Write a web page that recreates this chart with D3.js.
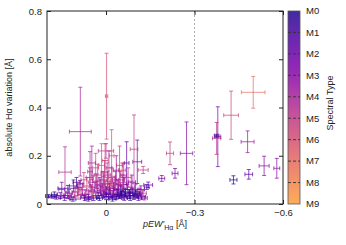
<!DOCTYPE html>
<html>
<head>
<meta charset="utf-8">
<script src="https://cdnjs.cloudflare.com/ajax/libs/d3/7.8.5/d3.min.js"></script>
<style>
  body { margin: 0; background: #fff; }
  text { font-family: "Liberation Sans", Arial, sans-serif; fill: #222; }
</style>
</head>
<body>
<div id="chart"></div>
<script>
// pEW' H-alpha (x), absolute variation (y), their errors and spectral subtype (0 = M0 ... 9 = M9)
var pew = [
  -0.499, -0.424, -0.379, -0.375, -0.375, -0.480, -0.432, -0.484, -0.536, -0.579,
  -0.273, -0.217, -0.234, -0.189, -0.143, -0.138, -0.126, -0.106, -0.095, -0.019,
  0.000, 0.087, -0.002, 0.139, 0.129,
  0.195, 0.182, 0.168, 0.175, 0.155, 0.150, 0.140, 0.125, 0.118, 0.110,
  0.105, 0.100, 0.088, 0.095, 0.080, 0.075, 0.054, 0.070, 0.065, 0.060,
  0.055, 0.050, 0.045, 0.042, 0.038, 0.035, 0.030, 0.028, 0.025, 0.020,
  0.015, 0.012, 0.010, 0.008, 0.005, 0.002, -0.002, -0.005, -0.008, -0.010,
  -0.012, -0.015, -0.020, -0.025, -0.028, -0.030, -0.035, -0.038, -0.040, -0.045,
  -0.048, -0.050, -0.055, -0.058, -0.060, -0.065, -0.070, -0.072, -0.075, -0.080,
  -0.085, -0.090, -0.095, -0.100, -0.105, -0.110, -0.115, -0.120, -0.125, -0.130,
  0.060, 0.045, 0.032, 0.022, 0.018, 0.008, 0.000, -0.004, -0.010, -0.016,
  -0.022, -0.026, -0.032, -0.036, -0.042, -0.046, -0.052, -0.056, -0.062, -0.066,
  -0.078, -0.082, -0.088, -0.098, -0.108, -0.118, 0.085, 0.072, 0.092, 0.130,
  0.112, 0.048, 0.003, -0.060
];
var pewErr = [
  0.040, 0.025, 0.010, 0.014, 0.008, 0.022, 0.012, 0.013, 0.017, 0.010,
  0.021, 0.012, 0.010, 0.010, 0.015, 0.008, 0.017, 0.015, 0.013, 0.008,
  0.026, 0.037, 0.004, 0.021, 0.034,
  0.010, 0.012, 0.008, 0.010, 0.012, 0.010, 0.015, 0.012, 0.010, 0.014,
  0.010, 0.012, 0.010, 0.012, 0.015, 0.010, 0.008, 0.010, 0.012, 0.015,
  0.012, 0.010, 0.015, 0.012, 0.010, 0.010, 0.014, 0.012, 0.010, 0.015,
  0.010, 0.012, 0.014, 0.010, 0.012, 0.015, 0.010, 0.012, 0.014, 0.010,
  0.012, 0.016, 0.012, 0.010, 0.015, 0.012, 0.010, 0.014, 0.012, 0.010,
  0.015, 0.010, 0.012, 0.012, 0.010, 0.015, 0.008, 0.012, 0.010, 0.014,
  0.012, 0.010, 0.015, 0.012, 0.010, 0.012, 0.010, 0.014, 0.012, 0.010,
  0.012, 0.010, 0.014, 0.010, 0.012, 0.015, 0.010, 0.012, 0.014, 0.010,
  0.012, 0.015, 0.010, 0.012, 0.014, 0.010, 0.012, 0.015, 0.010, 0.012,
  0.014, 0.010, 0.012, 0.015, 0.010, 0.012, 0.012, 0.014, 0.010, 0.012,
  0.010, 0.012, 0.010, 0.010
];
var variation = [
  0.463, 0.368, 0.279, 0.272, 0.283, 0.258, 0.100, 0.123, 0.158, 0.148,
  0.210, 0.210, 0.127, 0.106, 0.079, 0.070, 0.141, 0.175, 0.227, 0.200,
  0.220, 0.300, 0.447, 0.132, 0.065,
  0.033, 0.030, 0.028, 0.040, 0.035, 0.060, 0.025, 0.045, 0.030, 0.075,
  0.050, 0.090, 0.083, 0.035, 0.060, 0.100, 0.134, 0.040, 0.075, 0.030,
  0.110, 0.055, 0.090, 0.025, 0.070, 0.150, 0.045, 0.120, 0.035, 0.080,
  0.160, 0.060, 0.100, 0.040, 0.130, 0.070, 0.050, 0.095, 0.030, 0.150,
  0.065, 0.040, 0.110, 0.055, 0.085, 0.030, 0.140, 0.045, 0.075, 0.035,
  0.100, 0.055, 0.140, 0.030, 0.080, 0.045, 0.170, 0.060, 0.110, 0.035,
  0.070, 0.050, 0.030, 0.060, 0.040, 0.025, 0.050, 0.030, 0.045, 0.025,
  0.020, 0.050, 0.095, 0.025, 0.055, 0.085, 0.030, 0.120, 0.045, 0.080,
  0.020, 0.065, 0.100, 0.030, 0.060, 0.160, 0.040, 0.090, 0.025, 0.050,
  0.045, 0.025, 0.090, 0.045, 0.035, 0.060, 0.040, 0.025, 0.065, 0.035,
  0.020, 0.170, 0.180, 0.120
];
var variationErr = [
  0.066, 0.100, 0.124, 0.066, 0.006, 0.045, 0.017, 0.020, 0.040, 0.041,
  0.130, 0.047, 0.020, 0.012, 0.012, 0.010, 0.015, 0.090, 0.142, 0.108,
  0.030, 0.184, 0.178, 0.105, 0.012,
  0.006, 0.006, 0.008, 0.010, 0.012, 0.030, 0.010, 0.015, 0.012, 0.025,
  0.020, 0.020, 0.015, 0.015, 0.025, 0.030, 0.083, 0.015, 0.035, 0.010,
  0.040, 0.025, 0.030, 0.010, 0.020, 0.060, 0.020, 0.045, 0.012, 0.030,
  0.090, 0.025, 0.035, 0.015, 0.050, 0.025, 0.020, 0.040, 0.010, 0.070,
  0.020, 0.015, 0.040, 0.020, 0.030, 0.010, 0.060, 0.015, 0.025, 0.012,
  0.035, 0.020, 0.030, 0.010, 0.030, 0.015, 0.088, 0.020, 0.040, 0.012,
  0.025, 0.015, 0.010, 0.020, 0.012, 0.010, 0.015, 0.010, 0.012, 0.008,
  0.008, 0.020, 0.030, 0.010, 0.020, 0.030, 0.012, 0.050, 0.015, 0.030,
  0.008, 0.025, 0.035, 0.010, 0.020, 0.080, 0.012, 0.030, 0.010, 0.015,
  0.015, 0.010, 0.030, 0.012, 0.010, 0.015, 0.015, 0.010, 0.025, 0.012,
  0.008, 0.070, 0.070, 0.050
];
var spType = [
  7, 5.5, 2.5, 4.5, 0.5, 3.5, 0, 1.5, 3, 3,
  3, 5, 2.5, 2.5, 2, 1, 5, 2, 5, 6,
  4.5, 4, 6, 4.5, 0.5,
  0.5, 1, 1.5, 0, 2, 3, 1, 3.5, 4, 2,
  4.5, 1, 1.5, 5, 4, 5, 4, 3, 5.5, 2,
  4.5, 3.5, 5, 1, 2.5, 5.5, 4, 4.5, 0.5, 3,
  6, 5, 3.5, 2, 5, 4, 1.5, 5.5, 0.5, 4,
  3, 1, 5, 2, 4.5, 0, 3.5, 2.5, 5, 1,
  4, 0.5, 5.5, 1.5, 3, 0, 1.5, 2, 5, 1,
  4, 0.5, 2.5, 3.5, 0, 1.5, 4.5, 2, 5, 3,
  1, 5.5, 4.5, 0, 3, 5, 1, 4.5, 2, 5.5,
  0.5, 3.5, 4, 1, 2.5, 5, 0, 4.5, 1.5, 0.5,
  1, 0, 3, 0.5, 1, 2, 4.5, 1.5, 5, 2.5,
  0.5, 4, 5.5, 4
];
var xTicks = [0, -0.3, -0.6];
var yTicks = [0, 0.2, 0.4, 0.6, 0.8];
var spLabels = ["M0", "M1", "M2", "M3", "M4", "M5", "M6", "M7", "M8", "M9"];

var width = 346, height = 245;
var plot = {left: 47, right: 283, top: 11, bottom: 204};

var svg = d3.select("#chart").append("svg")
    .attr("width", width)
    .attr("height", height);

var xScale = d3.scaleLinear().domain([0.2, -0.6]).range([plot.left, plot.right]);
var yScale = d3.scaleLinear().domain([0, 0.8]).range([plot.bottom, plot.top]);
var colorScale = d3.scaleSequential(function (t) { return d3.interpolatePlasma(0.03 + t * 0.75); })
    .domain([0, 9]);

var fmtTick = function (d) { return d === 0 ? "0" : d3.format(".1f")(d); };

// dashed marker at -0.3
svg.append("line")
    .attr("x1", xScale(-0.3)).attr("x2", xScale(-0.3))
    .attr("y1", plot.top).attr("y2", plot.bottom)
    .attr("stroke", "#999")
    .attr("stroke-width", 0.8)
    .attr("stroke-dasharray", "2,2");

// error bars
var pts = pew.map(function (d, i) {
    return {x: d, xe: pewErr[i], y: variation[i], ye: variationErr[i], t: spType[i]};
});

var cap = 2;
var g = svg.append("g").attr("id", "points");
var marks = g.selectAll("g").data(pts).enter().append("g")
    .attr("stroke", function (d) { return colorScale(d.t); })
    .attr("stroke-width", 1)
    .attr("stroke-opacity", 0.7)
    .attr("fill", "none");

marks.append("path").attr("d", function (d) {
    var cx = xScale(d.x), cy = yScale(d.y);
    var y0 = yScale(Math.max(0, d.y - d.ye)), y1 = yScale(d.y + d.ye);
    var x0 = xScale(d.x + d.xe), x1 = xScale(d.x - d.xe);
    return "M" + cx + "," + y0 + "V" + y1 +
        "M" + (cx - cap) + "," + y0 + "H" + (cx + cap) +
        "M" + (cx - cap) + "," + y1 + "H" + (cx + cap) +
        "M" + x0 + "," + cy + "H" + x1 +
        "M" + x0 + "," + (cy - cap) + "V" + (cy + cap) +
        "M" + x1 + "," + (cy - cap) + "V" + (cy + cap);
});

// axes (ticks pointing inward, mirrored)
var axisStyle = function (sel) {
    sel.select(".domain").remove();
    sel.selectAll(".tick line").attr("stroke", "#222");
    sel.selectAll("text").style("font-size", "9.5px").attr("fill", "#222")
        .style("font-family", "Liberation Sans, Arial, sans-serif");
};

svg.append("g")
    .attr("transform", "translate(0," + plot.bottom + ")")
    .call(d3.axisBottom(xScale).tickValues(xTicks).tickFormat(fmtTick).tickSizeInner(-4).tickSizeOuter(0).tickPadding(5))
    .call(axisStyle);
svg.append("g")
    .attr("transform", "translate(0," + plot.top + ")")
    .call(d3.axisTop(xScale).tickValues(xTicks).tickFormat("").tickSizeInner(-4).tickSizeOuter(0))
    .call(axisStyle);
svg.append("g")
    .attr("transform", "translate(" + plot.left + ",0)")
    .call(d3.axisLeft(yScale).tickValues(yTicks).tickFormat(fmtTick).tickSizeInner(-4).tickSizeOuter(0).tickPadding(5))
    .call(axisStyle);
svg.append("g")
    .attr("transform", "translate(" + plot.right + ",0)")
    .call(d3.axisRight(yScale).tickValues(yTicks).tickFormat("").tickSizeInner(-4).tickSizeOuter(0))
    .call(axisStyle);

svg.append("rect")
    .attr("x", plot.left).attr("y", plot.top)
    .attr("width", plot.right - plot.left).attr("height", plot.bottom - plot.top)
    .attr("fill", "none").attr("stroke", "#222").attr("stroke-width", 1);

// axis titles
svg.append("text")
    .attr("transform", "translate(11.5," + ((plot.top + plot.bottom) / 2) + ") rotate(-90)")
    .attr("text-anchor", "middle")
    .style("font-size", "9px")
    .text("absolute H\u03b1 variation [\u00c5]");

var xt = svg.append("text")
    .attr("x", (plot.left + plot.right) / 2)
    .attr("y", 227)
    .attr("text-anchor", "middle")
    .style("font-size", "9px");
xt.append("tspan").style("font-style", "italic").text("pEW\u2032");
xt.append("tspan").attr("dy", 2.5).style("font-size", "7px").text("H\u03b1");
xt.append("tspan").attr("dy", -2.5).text(" [\u00c5]");

// colour bar
var cb = {x: 288, w: 12};
var cbScale = d3.scaleLinear().domain([0, 9]).range([plot.top, plot.bottom]);
var defs = svg.append("defs");
var grad = defs.append("linearGradient").attr("id", "cbGrad")
    .attr("x1", 0).attr("x2", 0).attr("y1", 0).attr("y2", 1);
d3.range(0, 9.01, 0.5).forEach(function (v) {
    grad.append("stop").attr("offset", v / 9).attr("stop-color", colorScale(v));
});
svg.append("rect")
    .attr("x", cb.x).attr("y", plot.top)
    .attr("width", cb.w).attr("height", plot.bottom - plot.top)
    .attr("fill", "url(#cbGrad)")
    .attr("fill-opacity", 0.85)
    .attr("stroke", "#555").attr("stroke-width", 0.8);

svg.append("g").selectAll("line").data(d3.range(1, 9)).enter().append("line")
    .attr("x1", cb.x).attr("x2", cb.x + cb.w)
    .attr("y1", function (d) { return cbScale(d); })
    .attr("y2", function (d) { return cbScale(d); })
    .attr("stroke", "#333").attr("stroke-width", 0.9)
    .attr("stroke-dasharray", "3,2");

svg.append("g").selectAll("text").data(spLabels).enter().append("text")
    .attr("x", cb.x + cb.w + 6)
    .attr("y", function (d, i) { return cbScale(i); })
    .attr("dy", "0.35em")
    .style("font-size", "9.5px")
    .text(function (d) { return d; });

svg.append("text")
    .attr("transform", "translate(333,103) rotate(-90)")
    .attr("text-anchor", "middle")
    .style("font-size", "9px")
    .text("Spectral Type");
</script>
</body>
</html>
